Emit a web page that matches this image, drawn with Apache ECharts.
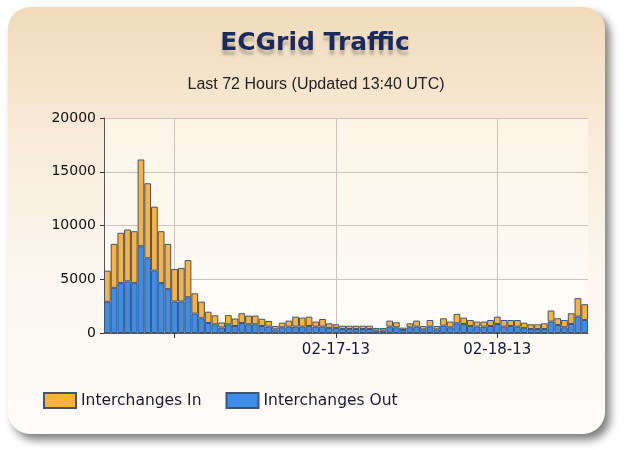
<!DOCTYPE html>
<html>
<head>
<meta charset="utf-8">
<script src="https://cdn.jsdelivr.net/npm/echarts@6/dist/echarts.min.js"></script>
<style>
html,body{margin:0;padding:0;background:#ffffff;}
#chart{width:626px;height:450px;}
</style>
</head>
<body>
<div id="chart"></div>
<script>
var categories = [
 '02-15-13 14:00','02-15-13 15:00','02-15-13 16:00','02-15-13 17:00','02-15-13 18:00','02-15-13 19:00',
 '02-15-13 20:00','02-15-13 21:00','02-15-13 22:00','02-15-13 23:00',
 '02-16-13 00:00','02-16-13 01:00','02-16-13 02:00','02-16-13 03:00','02-16-13 04:00','02-16-13 05:00',
 '02-16-13 06:00','02-16-13 07:00','02-16-13 08:00','02-16-13 09:00','02-16-13 10:00','02-16-13 11:00',
 '02-16-13 12:00','02-16-13 13:00','02-16-13 14:00','02-16-13 15:00','02-16-13 16:00','02-16-13 17:00',
 '02-16-13 18:00','02-16-13 19:00','02-16-13 20:00','02-16-13 21:00','02-16-13 22:00','02-16-13 23:00',
 '02-17-13 00:00','02-17-13 01:00','02-17-13 02:00','02-17-13 03:00','02-17-13 04:00','02-17-13 05:00',
 '02-17-13 06:00','02-17-13 07:00','02-17-13 08:00','02-17-13 09:00','02-17-13 10:00','02-17-13 11:00',
 '02-17-13 12:00','02-17-13 13:00','02-17-13 14:00','02-17-13 15:00','02-17-13 16:00','02-17-13 17:00',
 '02-17-13 18:00','02-17-13 19:00','02-17-13 20:00','02-17-13 21:00','02-17-13 22:00','02-17-13 23:00',
 '02-18-13 00:00','02-18-13 01:00','02-18-13 02:00','02-18-13 03:00','02-18-13 04:00','02-18-13 05:00',
 '02-18-13 06:00','02-18-13 07:00','02-18-13 08:00','02-18-13 09:00','02-18-13 10:00','02-18-13 11:00',
 '02-18-13 12:00','02-18-13 13:00'
];
var interchangesOut = [
 2900,4200,4640,4800,4640,8070,6950,5800,4640,4080,
 2930,2930,3320,1800,1370,930,810,510,810,650,930,810,810,650,
 590,340,530,590,590,590,650,590,590,470,
 470,370,370,370,370,370,220,220,590,530,280,530,590,340,590,340,680,530,900,840,650,590,590,650,
 840,590,650,590,470,370,370,370,1060,750,530,840,1520,1210
];
var interchangesIn = [
 2900,4090,4680,4830,4830,8070,6980,5950,4830,4210,
 3020,3120,3460,1890,1550,1050,840,470,850,700,910,810,810,670,
 530,310,430,560,930,840,870,470,710,430,
 340,310,310,310,310,310,250,250,560,470,220,370,560,310,620,310,690,530,880,590,560,470,470,560,
 680,620,560,620,490,440,440,530,1030,620,680,1000,1720,1470
];
var gridTicks = ['02-16-13 00:00','02-17-13 00:00','02-18-13 00:00'];
var labeledTicks = ['02-17-13 00:00','02-18-13 00:00'];
var yTicks = [0,5000,10000,15000,20000];

var chart = echarts.init(document.getElementById('chart'));
var border = '#3d5573';
function isGrid(i){ return gridTicks.indexOf(categories[i]) >= 0; }
chart.setOption({
  animation: false,
  graphic: [{
    type: 'rect', z: -10,
    shape: {x: 8, y: 7, width: 597, height: 427, r: 22},
    style: {
      fill: new echarts.graphic.LinearGradient(0,0,0,1,[
        {offset:0,color:'#f1dbba'},{offset:0.3,color:'#f8ebd9'},{offset:0.65,color:'#fcf7f0'},{offset:1,color:'#fdfbf8'}]),
      shadowBlur: 8, shadowOffsetX: 5, shadowOffsetY: 6, shadowColor: 'rgba(0,0,0,0.5)'
    }
  }],
  title: [{
    text: 'ECGrid Traffic', left: 310, top: 26, textAlign: 'center',
    textStyle: {fontFamily: 'DejaVu Sans', fontWeight: 'bold', fontSize: 25, color: '#1b2a5e',
      textShadowColor: 'rgba(0,0,0,0.22)', textShadowBlur: 3, textShadowOffsetY: 5}
  },{
    text: 'Last 72 Hours (Updated 13:40 UTC)', left: 311, top: 72, textAlign: 'center',
    textStyle: {fontFamily: 'Liberation Sans', fontWeight: 'normal', fontSize: 16, color: '#222222'}
  }],
  legend: {
    data: ['Interchanges In','Interchanges Out'],
    left: 38, top: 387, itemWidth: 32, itemHeight: 15, itemGap: 24,
    icon: 'rect',
    textStyle: {fontFamily: 'DejaVu Sans', fontSize: 15.5, color: '#1a1a2e'}
  },
  grid: {left: 104, right: 38, top: 118, bottom: 117, show: true, borderWidth: 0,
    backgroundColor: new echarts.graphic.LinearGradient(0,0,0,1,[{offset:0,color:'#fcf4e6'},{offset:1,color:'#fefcf9'}])},
  xAxis: {
    type: 'category', data: categories, boundaryGap: true,
    axisLine: {lineStyle: {color: '#555555', width: 1}},
    axisTick: {show: true, alignWithLabel: true, length: 5, interval: function(i){return isGrid(i);}, lineStyle: {color: '#333333'}},
    axisLabel: {interval: function(i, v){ return labeledTicks.indexOf(v) >= 0; },
      formatter: function(v){ return v.split(' ')[0]; },
      fontFamily: 'DejaVu Sans', fontSize: 15, color: '#0f1a3a', margin: 10},
    splitLine: {show: true, alignWithLabel: true, interval: function(i){return isGrid(i);}, lineStyle: {color: '#c9c5be', width: 1}}
  },
  yAxis: {
    type: 'value', min: yTicks[0], max: yTicks[yTicks.length-1], interval: yTicks[1]-yTicks[0],
    axisLine: {show: true, lineStyle: {color: '#555555'}},
    axisTick: {show: true, length: 4, lineStyle: {color: '#333333'}},
    axisLabel: {fontFamily: 'DejaVu Sans', fontSize: 14, color: '#111111', margin: 8,
      formatter: function(v){ return String(v); }},
    splitLine: {show: true, lineStyle: {color: '#c9c5be', width: 1}}
  },
  series: [{
    name: 'Interchanges Out', type: 'bar', stack: 'total', data: interchangesOut,
    barCategoryGap: '0%',
    itemStyle: {color: '#3f8deb', borderColor: border, borderWidth: 1}
  },{
    name: 'Interchanges In', type: 'bar', stack: 'total', data: interchangesIn,
    barCategoryGap: '0%',
    itemStyle: {color: '#fcb23d', borderColor: border, borderWidth: 1}
  }]
});
</script>
</body>
</html>
